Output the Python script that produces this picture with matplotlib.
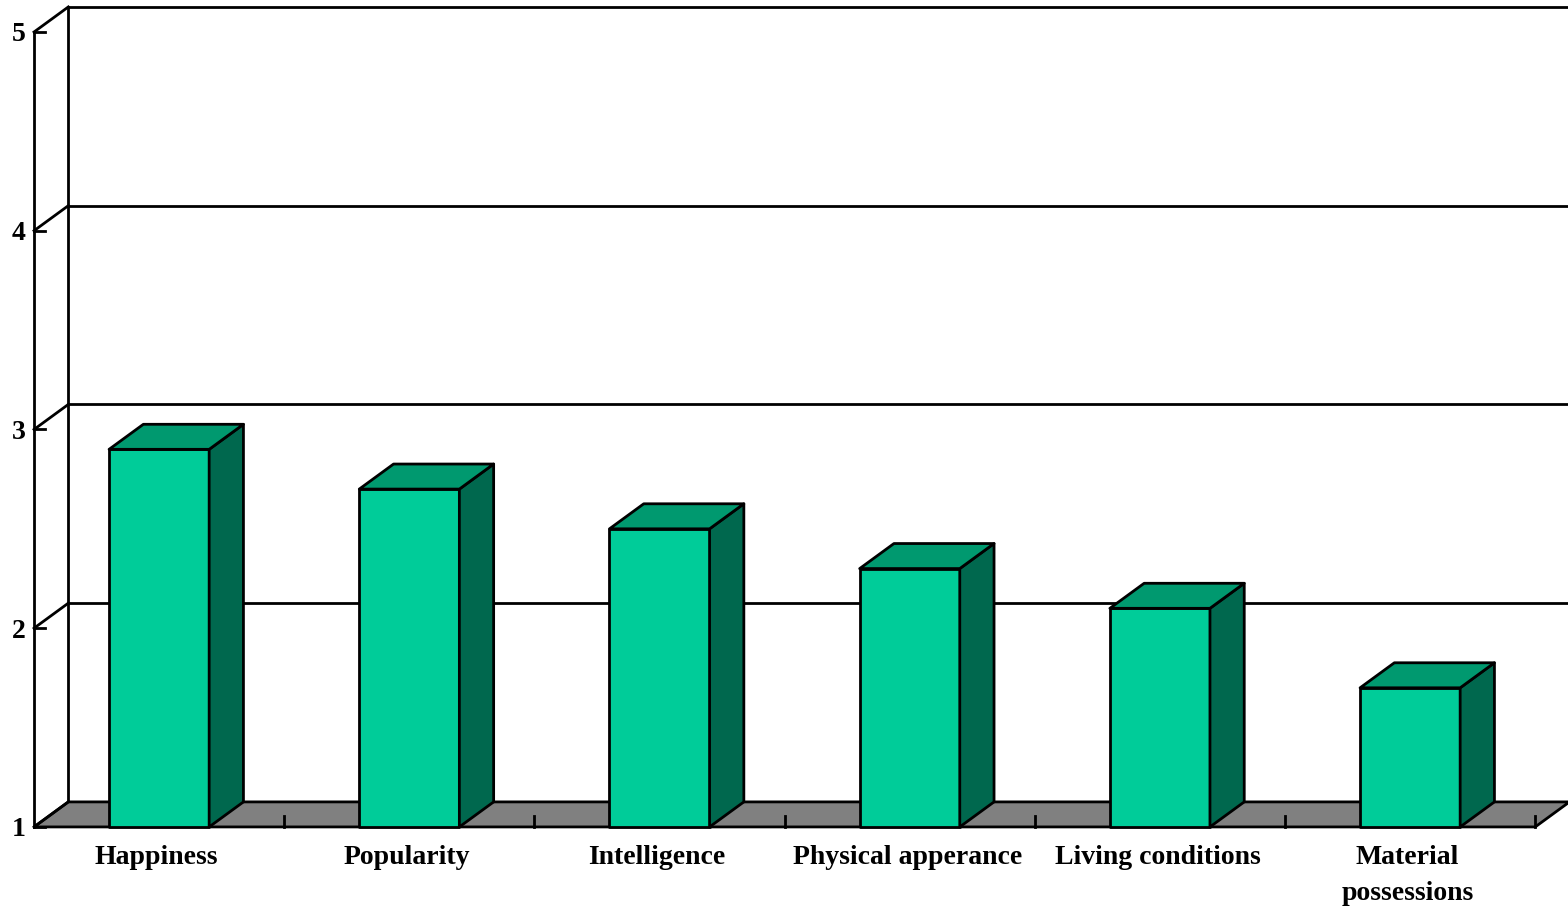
import matplotlib.pyplot as plt
from matplotlib.patches import Polygon

categories = ['Happiness', 'Popularity', 'Intelligence', 'Physical apperance',
              'Living conditions', 'Material\npossessions']
values = [2.9, 2.7, 2.5, 2.3, 2.1, 1.7]
yticks = [1, 2, 3, 4, 5]

FRONT = '#00cc99'
TOP = '#00996f'
SIDE = '#00684e'
FLOOR = '#808080'
LW = 2.0

# depth offset of the 3d box, in data units (x: categories, y: values)
dx, dy = 0.137, 0.126
bar_w = 0.4


def draw_bar(ax, x0, v):
    x1 = x0 + bar_w
    front = [(x0, 1), (x1, 1), (x1, v), (x0, v)]
    side = [(x1, 1), (x1 + dx, 1 + dy), (x1 + dx, v + dy), (x1, v)]
    top = [(x0, v), (x1, v), (x1 + dx, v + dy), (x0 + dx, v + dy)]
    for pts, c in ((front, FRONT), (side, SIDE), (top, TOP)):
        ax.add_patch(Polygon(pts, closed=True, facecolor=c, edgecolor='black',
                             lw=LW, joinstyle='round', zorder=3))


fig = plt.figure(figsize=(15.68, 9.12), dpi=100)
ax = fig.add_axes([0, 0, 1, 1])
ax.set_xlim(-0.136, 6.131)
ax.set_ylim(0.577, 5.166)
ax.axis('off')

n = len(categories)
xr = ax.get_xlim()[1] + 0.1

# back wall gridlines and frame
for v in yticks[1:]:
    ax.plot([dx, xr], [v + dy, v + dy], color='black', lw=LW, zorder=1)
ax.plot([dx, dx], [1 + dy, 5 + dy], color='black', lw=LW, zorder=1)

# floor
floor = [(0, 1), (n, 1), (n + dx, 1 + dy), (dx, 1 + dy)]
ax.add_patch(Polygon(floor, closed=True, facecolor=FLOOR, edgecolor='black',
                     lw=LW, zorder=2))
for i in range(1, n + 1):
    ax.plot([i, i], [1, 1.055], color='black', lw=LW, zorder=2)

# side wall: front axis, ticks and diagonals
ax.plot([0, 0], [1, 5], color='black', lw=LW, zorder=2)
for v in yticks:
    ax.plot([0, dx], [v, v + dy], color='black', lw=LW, zorder=2)
    ax.plot([0, 0.044], [v, v], color='black', lw=LW, zorder=2)
    ax.text(-0.06, v - 0.01, str(v), ha='center', va='center', fontsize=20,
            fontweight='bold', family='Liberation Serif')

for i, v in enumerate(values):
    draw_bar(ax, i + 0.3, v)

for i, lab in enumerate(categories):
    ax.text(i + 0.49, 0.915, lab, ha='center', va='top', fontsize=20,
            fontweight='bold', family='Liberation Serif', linespacing=1.6)

fig.savefig('out.png', dpi=100)
